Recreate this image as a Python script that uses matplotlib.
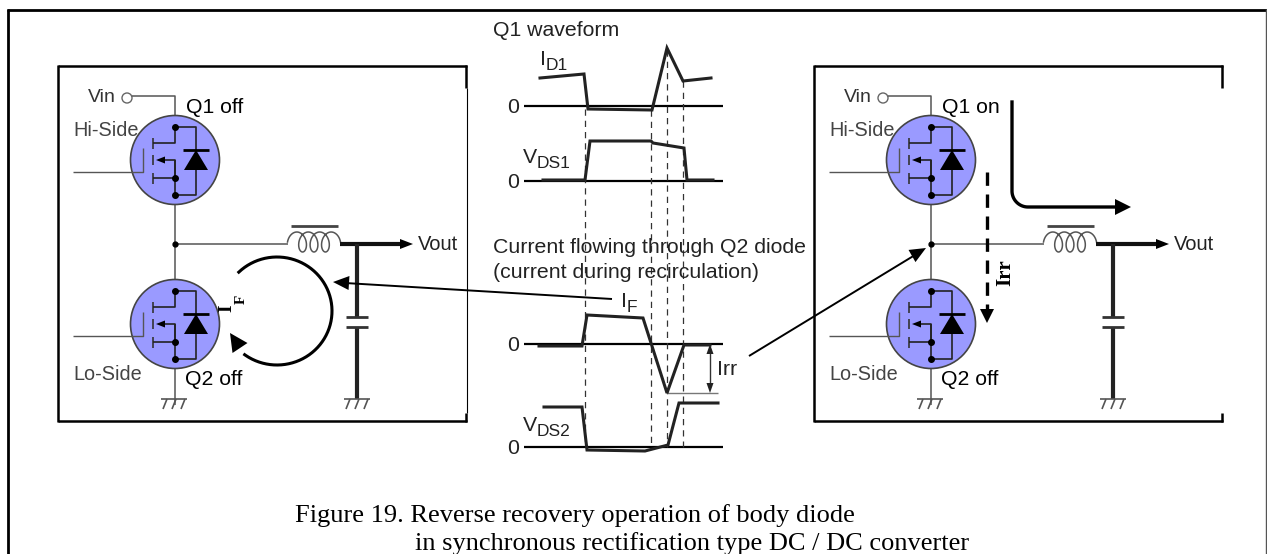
import numpy as np
import matplotlib
matplotlib.use('Agg')
import matplotlib.pyplot as plt
from matplotlib.patches import Circle, Polygon

W, H = 1267, 554

# waveform traces, x position and y position (pixels)
id1_x = [540, 584, 588, 652, 667, 683, 711]
id1_y = [78, 74, 109, 110, 48, 81, 78]
vds1_x = [543, 585, 590, 651, 653, 684, 687, 713]
vds1_y = [180, 180, 141, 141, 143, 148, 180, 180]
if_x = [539, 582, 587, 643, 667, 684, 710]
if_y = [346, 346, 315, 318, 393, 345, 345]
vds2_x = [544, 582, 587, 645, 668, 679, 718]
vds2_y = [407, 407, 450, 451, 445, 403, 403]
zero_levels = [106, 181, 344, 447]
dash_x = [585, 651, 667, 683]
dash_top = [109, 110, 50, 81]

caption1 = 'Figure 19. Reverse recovery operation of body diode'
caption2 = 'in synchronous rectification type DC / DC converter'

SANS = 'Liberation Sans'
SERIF = 'Liberation Serif'
WIRE = '#555555'
INK = '#222222'
BIG = 15.3

fig = plt.figure(figsize=(W / 100, H / 100), dpi=100)
ax = fig.add_axes([0, 0, 1, 1])
ax.set_xlim(0, W)
ax.set_ylim(H, 0)
ax.axis('off')


def line(xs, ys, color='black', lw=1.0, **kw):
    ax.plot(xs, ys, color=color, lw=lw, solid_capstyle='butt', **kw)


def head(tip, base, half, color='black'):
    # filled triangular arrow head from base centre to tip
    d = np.array(tip, float) - np.array(base, float)
    n = np.array([-d[1], d[0]]) / np.hypot(*d)
    b = np.array(base, float)
    ax.add_patch(Polygon([tip, b + n * half, b - n * half], color=color, lw=0, zorder=5))


def sub_label(x, y, main, sub):
    t = ax.text(x, y, main, family=SANS, fontsize=BIG, va='baseline', color=INK)
    w = t.get_window_extent(fig.canvas.get_renderer()).width
    ax.text(x + w, y + 5, sub, family=SANS, fontsize=12.5, va='baseline', color=INK)


def ground(x):
    line([x - 13, x + 13], [399, 399], WIRE, 1.2)
    for dx in (-8, 1, 10):
        line([x + dx + 1, x + dx - 3], [399, 409], WIRE, 1.2)


def mosfet(cx, cy):
    ax.add_patch(Circle((cx, cy), 44.5, fc='#9a9aff', ec='#444444', lw=1.2, zorder=2))
    z = 3
    # gate
    line([cx - 102, cx - 32, cx - 32], [cy + 12, cy + 12, cy - 12], '#555555', 1.0, zorder=z)
    # channel segments
    for a, b in ((-22, -11), (-5, 5), (13, 24)):
        line([cx - 22, cx - 22], [cy + a, cy + b], '#333333', 1.2, zorder=z)
    line([cx - 22, cx, cx], [cy - 17, cy - 17, cy - 33], INK, 1.2, zorder=z)
    line([cx - 22, cx, cx], [cy + 18, cy + 18, cy], INK, 1.2, zorder=z)
    line([cx - 15, cx, cx, cx], [cy, cy, cy, cy + 35], INK, 1.2, zorder=z)
    head((cx - 19, cy), (cx - 10, cy), 3.5)
    # body diode
    line([cx, cx + 21, cx + 21, cx], [cy - 33, cy - 33, cy + 35, cy + 35], INK, 1.2, zorder=z)
    ax.add_patch(Polygon([(cx + 21, cy - 10), (cx + 9, cy + 10), (cx + 33, cy + 10)], color='black', lw=0, zorder=4))
    line([cx + 8, cx + 34], [cy - 10, cy - 10], 'black', 2.0, zorder=4)
    for dy in (-33, 18, 35):
        ax.plot([cx], [cy + dy], 'o', color='black', ms=4, zorder=5)


def coil(x0, x1, yc):
    # three winding loops hanging below the arches
    t = np.linspace(-1.5 * np.pi, 5.5 * np.pi, 500)
    u = (t - t[0]) / (t[-1] - t[0])
    xs = x0 + (x1 - x0) * u - 6.5 * np.sin(t)
    ys = yc + 10 * np.cos(t)
    ax.plot(xs, ys, color='#555555', lw=1.1)


def circuit(dx, q1_text, q2_text, right_thin):
    left, right = 58 + dx, 466 + dx
    line([left, left], [65, 422], 'black', 1.8)
    line([left, right + 1], [66, 66], 'black', 1.8)
    line([left, right + 1], [421, 421], 'black', 1.8)
    line([right, right], [65, 88], 'black', 1.8)
    line([right, right], [413, 422], 'black', 1.8)
    if right_thin:
        line([right + 0.5, right + 0.5], [88, 413], 'black', 0.8)
    x = 175 + dx
    ax.text(102 + dx, 98, 'Vin', family=SANS, fontsize=14, ha='center', va='center', color='#333333')
    line([132 + dx, x, x], [96, 96, 405], WIRE, 1.1)
    ax.add_patch(Circle((127 + dx, 98), 5, fc='white', ec='#666666', lw=1))
    mosfet(x, 160)
    mosfet(x, 324)
    ax.plot([x], [244], 'o', color='black', ms=3.5, zorder=5)
    line([x, 288 + dx], [244, 244], WIRE, 1.1)
    coil(294 + dx, 334 + dx, 242)
    line([291 + dx, 338 + dx], [226, 226], '#444444', 2)
    line([340 + dx, 402 + dx], [244, 244], '#111111', 3)
    head((413 + dx, 244), (400 + dx, 244), 5)
    c = 357 + dx
    line([c, c], [244, 317], INK, 3)
    line([c, c], [327, 399], INK, 3)
    line([c - 11, c + 11], [317, 317], '#333333', 2)
    line([c - 11, c + 11], [327, 327], '#333333', 2)
    ground(x - 1)
    ground(c)
    ax.text(418 + dx, 245, 'Vout', family=SANS, fontsize=14.5, va='center', color=INK)
    ax.text(73 + dx, 130, 'Hi-Side', family=SANS, fontsize=14.3, va='center', color='#444444')
    ax.text(73 + dx, 375, 'Lo-Side', family=SANS, fontsize=14.3, va='center', color='#444444')
    ax.text(186 + dx, 113, q1_text, family=SANS, fontsize=BIG, va='baseline')
    ax.text(185 + dx, 385, q2_text, family=SANS, fontsize=BIG, va='baseline')


# outer frame, open at the bottom
line([8, 8], [9, 554], 'black', 2)
line([7, 1267], [9.5, 9.5], 'black', 2)
line([1266, 1266], [9, 554], '#555555', 1)

circuit(0, 'Q1 off', 'Q2 off', True)
circuit(756, 'Q1 on', 'Q2 off', False)

# recirculation loop on the left circuit
th = np.radians(np.linspace(-134, 126, 200))
ax.plot(277 + 55 * np.cos(th), 311 + 54 * np.sin(th), color='black', lw=2.2)
head((230, 333), (240, 348), 9)
ax.text(227, 308, 'I', family=SERIF, fontsize=14, weight='bold', rotation=90, ha='center', va='center')
ax.text(241, 299, 'F', family=SERIF, fontsize=11, weight='bold', rotation=90, ha='center', va='center')

# Q1 on current path on the right circuit
th = np.radians(np.linspace(180, 90, 30))
ax.plot(np.r_[1012, 1028 + 16 * np.cos(th), 1118], np.r_[102, 191 + 16 * np.sin(th), 207], color='black', lw=2.4)
head((1131, 207), (1115, 207), 8)

# reverse recovery current, dashed
ax.plot([987, 987], [172, 312], color='black', lw=2.4, dashes=(4, 2.6))
head((987, 323), (987, 309), 7)
ax.text(1005, 273, 'Irr', family=SERIF, fontsize=15, weight='bold', rotation=90, ha='center', va='center')

# waveforms
for y in zero_levels:
    line([524, 723], [y, y], 'black', 1.6)
    ax.text(513, y + 7, '0', family=SANS, fontsize=BIG, ha='center', va='baseline', color=INK)
for x, top in zip(dash_x, dash_top):
    ax.plot([x, x], [top, 447], color='#333333', lw=0.9, dashes=(5, 4))
for xs, ys in ((id1_x, id1_y), (vds1_x, vds1_y), (if_x, if_y), (vds2_x, vds2_y)):
    ax.plot(xs, ys, color=INK, lw=2.2, solid_joinstyle='miter', zorder=4)

ax.text(493, 36, 'Q1 waveform', family=SANS, fontsize=BIG, va='baseline', color=INK)
sub_label(540, 65, 'I', 'D1')
sub_label(523, 163, 'V', 'DS1')
sub_label(523, 431, 'V', 'DS2')
sub_label(621, 307, 'I', 'F')
ax.text(493, 253, 'Current flowing through Q2 diode', family=SANS, fontsize=BIG, va='baseline', color=INK)
ax.text(493, 278, '(current during recirculation)', family=SANS, fontsize=BIG, va='baseline', color=INK)

# Irr dimension
line([667, 718], [393, 393], '#777777', 1.0)
line([710, 710], [352, 385], '#333333', 1.0)
head((710, 344), (710, 354), 3.5, INK)
head((710, 393), (710, 383), 3.5, INK)
ax.text(717, 375, 'Irr', family=SANS, fontsize=BIG, va='baseline', color=INK)

# leader arrows
line([612, 345], [299, 283], 'black', 1.4)
head((333, 282), (349, 283), 7)
line([749, 915], [356, 255], 'black', 1.4)
head((926, 248), (912, 256), 7)

ax.text(295, 522, caption1, family=SERIF, fontsize=19, va='baseline')
ax.text(415, 550, caption2, family=SERIF, fontsize=19, va='baseline')

fig.savefig('out.png', dpi=100)
